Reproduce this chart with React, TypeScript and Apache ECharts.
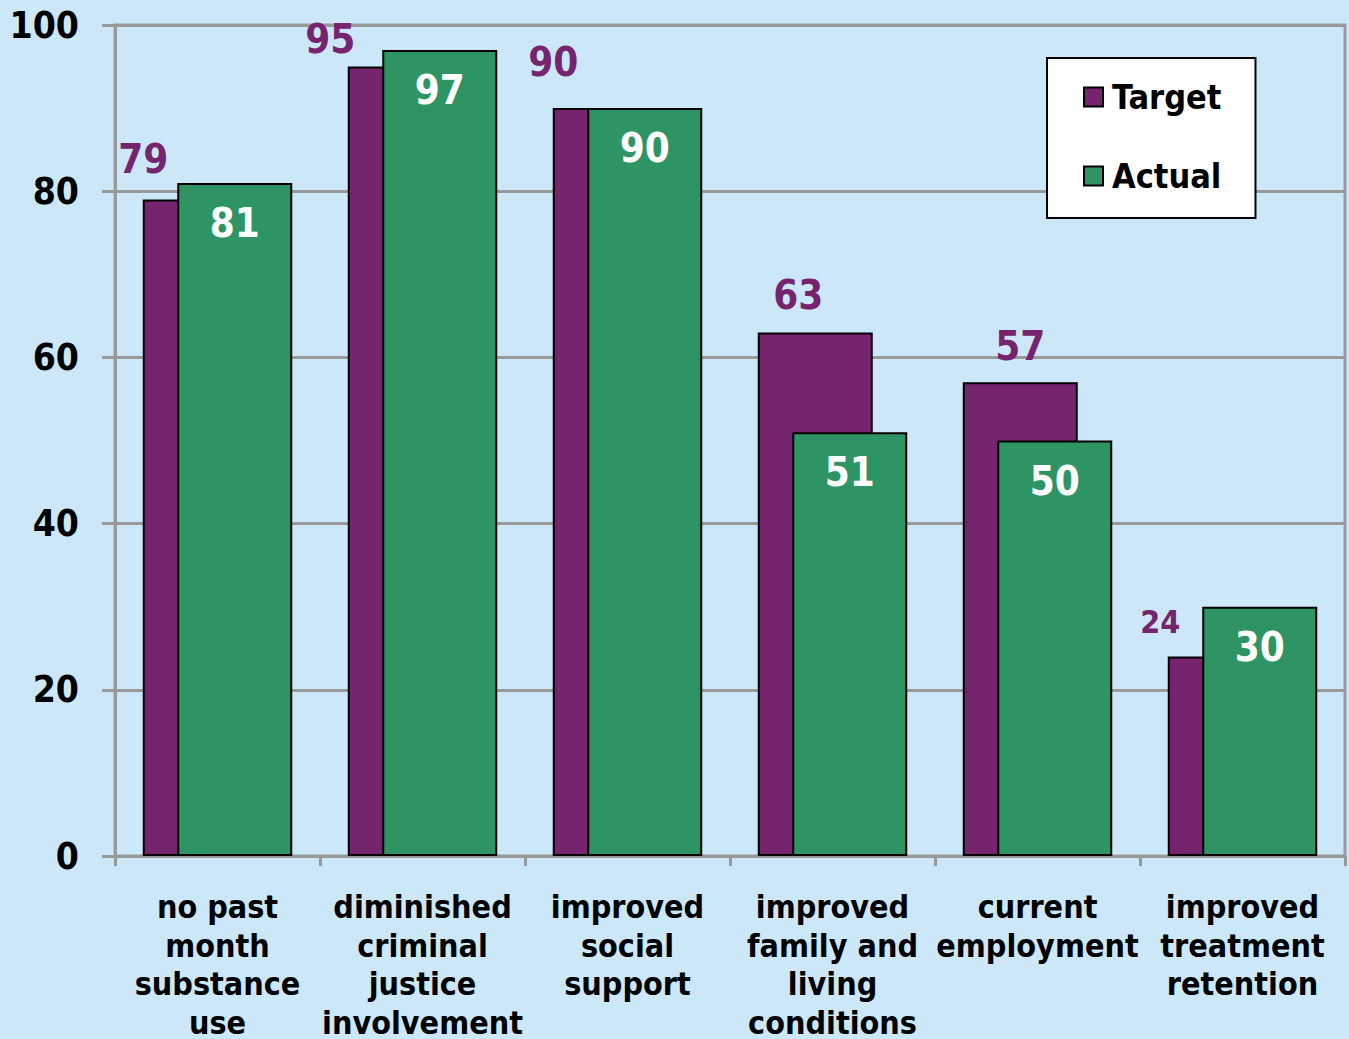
import React, { useEffect, useRef } from "react";
import * as echarts from "echarts";

const categories = [
  "no past\nmonth\nsubstance\nuse",
  "diminished\ncriminal\njustice\ninvolvement",
  "improved\nsocial\nsupport",
  "improved\nfamily and\nliving\nconditions",
  "current\nemployment",
  "improved\ntreatment\nretention",
];
const targetValues = [79, 95, 90, 63, 57, 24];
const actualValues = [81, 97, 90, 51, 50, 30];
const seriesNames = ["Target", "Actual"];

// label placement tweaks (styles, not data)
const targetLabelOffsets = [
  [-57, -16],
  [-75, -3],
  [-57, -21],
  [-17, -12],
  [0, -11],
  [-65, -14],
];
const targetLabelSizes = [40, 40, 40, 40, 40, 32];

const FONT = "'DejaVu Sans Condensed', 'DejaVu Sans', Verdana, sans-serif";
const PURPLE = "#77246F";
const GREEN = "#2E9464";
const GRID = "#999999";

export default function App() {
  const ref = useRef<HTMLDivElement>(null);
  useEffect(() => {
    document.body.style.margin = "0";
    const chart = echarts.init(ref.current!, null, { renderer: "svg" });
    chart.setOption({
      animation: false,
      backgroundColor: "#CCE8F8",
      textStyle: { fontFamily: FONT },
      legend: {
        orient: "vertical",
        left: 1047,
        top: 58,
        data: seriesNames,
        backgroundColor: "#ffffff",
        borderColor: "#000000",
        borderWidth: 2,
        padding: [22, 34, 25, 36],
        itemGap: 45,
        itemWidth: 19,
        itemHeight: 19,
        icon: "rect",
        itemStyle: { borderColor: "#000", borderWidth: 2 },
        textStyle: {
          fontFamily: FONT,
          fontWeight: "bold",
          fontSize: 34,
          color: "#000",
          padding: [0, 0, 0, 4],
        },
      },
      grid: {
        left: 115,
        right: 4,
        top: 25,
        bottom: 183,
        outerBoundsMode: "none",
        containLabel: false,
        show: true,
        borderColor: GRID,
        borderWidth: 3,
        backgroundColor: "transparent",
      },
      xAxis: {
        type: "category",
        data: categories,
        axisLine: { lineStyle: { color: GRID, width: 3 } },
        axisTick: { show: true, length: 10, lineStyle: { color: GRID, width: 3 } },
        axisLabel: {
          interval: 0,
          margin: 32,
          fontFamily: FONT,
          fontWeight: "bold",
          fontSize: 32,
          lineHeight: 38.5,
          color: "#000",
        },
      },
      yAxis: {
        type: "value",
        min: 0,
        max: 100,
        interval: 20,
        axisLine: { show: true, lineStyle: { color: GRID, width: 3 } },
        axisTick: { show: true, length: 13, lineStyle: { color: GRID, width: 3 } },
        splitLine: { lineStyle: { color: GRID, width: 3 } },
        axisLabel: {
          margin: 36,
          fontFamily: FONT,
          fontWeight: "bold",
          fontSize: 37,
          color: "#000",
        },
      },
      series: [
        {
          name: seriesNames[0],
          type: "bar",
          barWidth: 115,
          barGap: "-70%",
          itemStyle: { color: PURPLE, borderColor: "#000", borderWidth: 2 },
          label: {
            show: true,
            position: "top",
            distance: 5,
            color: PURPLE,
            fontFamily: FONT,
            fontWeight: "bold",
            fontSize: 40,
          },
          data: targetValues.map((v, i) => ({
            value: v,
            label: { offset: targetLabelOffsets[i], fontSize: targetLabelSizes[i] },
          })),
        },
        {
          name: seriesNames[1],
          type: "bar",
          barWidth: 115,
          itemStyle: { color: GREEN, borderColor: "#000", borderWidth: 2 },
          label: {
            show: true,
            position: "insideTop",
            distance: 20,
            color: "#ffffff",
            fontFamily: FONT,
            fontWeight: "bold",
            fontSize: 40,
          },
          data: actualValues,
        },
      ],
    });
    return () => chart.dispose();
  }, []);
  return <div ref={ref} style={{ width: 1349, height: 1039 }} />;
}
